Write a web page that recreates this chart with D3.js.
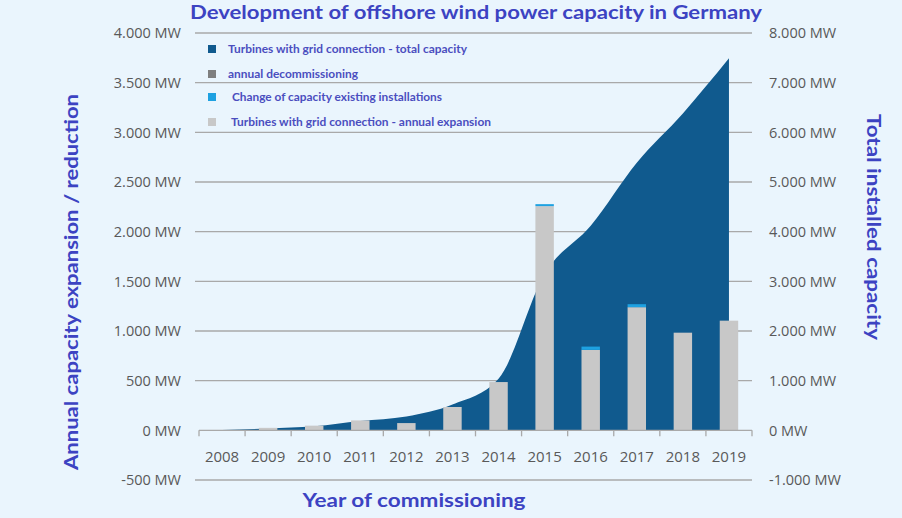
<!DOCTYPE html>
<html>
<head>
<meta charset="utf-8">
<script src="https://cdn.jsdelivr.net/npm/d3@7/dist/d3.min.js"></script>
<style>
  html, body { margin: 0; padding: 0; background: #eaf5fd; }
  svg { display: block; }
</style>
</head>
<body>
<svg id="chart" width="902" height="518"></svg>
<script>
// ---- data ----
const years = ["2008","2009","2010","2011","2012","2013","2014","2015","2016","2017","2018","2019"];
const annualExpansion = [3, 25, 47, 100, 73, 235, 486, 2257, 810, 1240, 983, 1104];
const capacityChange  = [0, 0, 0, 0, 0, 0, 0, 20, 33, 30, 0, 0];
const decommissioning = [0, 0, 0, 0, 0, 0, 0, 0, 0, 0, 0, 0];
const totalCapacity   = [5, 35, 80, 190, 280, 520, 1040, 3150, 4120, 5390, 6380, 7490];
const leftTicks  = [-500, 0, 500, 1000, 1500, 2000, 2500, 3000, 3500, 4000];
const rightTicks = [-1000, 0, 1000, 2000, 3000, 4000, 5000, 6000, 7000, 8000];
const legendItems = [
  {label: "Turbines with grid connection - total capacity", color: "#105a8e"},
  {label: "annual decommissioning", color: "#7f7f7f"},
  {label: "Change of capacity existing installations", color: "#1ea1e1"},
  {label: "Turbines with grid connection - annual expansion", color: "#c8c8c8"}
];
const titleText = "Development of offshore wind power capacity in Germany";

// ---- layout ----
const svg = d3.select("#chart");
const plotL = 199, plotR = 752, plotT = 33, plotB = 480;
const labelFont = "'Open Sans', 'Noto Sans', sans-serif";
const boldFont = "Lato, 'Open Sans', sans-serif";
const titleColor = "#3c43c2";
const tickColor = "#595959";

const x = d3.scaleBand().domain(years).range([plotL, plotR]).paddingInner(0.6).paddingOuter(0.3);
const yL = d3.scaleLinear().domain([-500, 4000]).range([plotB, plotT]);
const yR = d3.scaleLinear().domain([-1000, 8000]).range([plotB, plotT]);
const fmt = v => d3.format(",")(v).replace(/,/g, ".").replace("\u2212", "-") + " MW";

// gridlines
svg.append("g").selectAll("line").data(leftTicks.filter(d => d !== 0)).join("line")
  .attr("x1", plotL - 4).attr("x2", plotR)
  .attr("y1", d => yL(d)).attr("y2", d => yL(d))
  .attr("stroke", "#a9a9a9").attr("stroke-width", 1.3);

// area (total capacity, right axis)
const area = d3.area()
  .x((d, i) => x(years[i]) + x.bandwidth() / 2)
  .y0(yR(0))
  .y1(d => yR(d))
  .curve(d3.curveMonotoneX);
svg.append("path").datum(totalCapacity).attr("d", area).attr("fill", "#105a8e");

// bars
const bars = svg.append("g");
bars.selectAll("rect.exp").data(annualExpansion).join("rect").attr("class", "exp")
  .attr("x", (d, i) => x(years[i])).attr("width", x.bandwidth())
  .attr("y", d => yL(d)).attr("height", d => yL(0) - yL(d))
  .attr("fill", "#c8c8c8");
bars.selectAll("rect.chg").data(capacityChange).join("rect").attr("class", "chg")
  .attr("x", (d, i) => x(years[i])).attr("width", x.bandwidth())
  .attr("y", (d, i) => yL(annualExpansion[i] + d))
  .attr("height", (d, i) => yL(annualExpansion[i]) - yL(annualExpansion[i] + d))
  .attr("fill", "#1ea1e1");
bars.selectAll("rect.dec").data(decommissioning).join("rect").attr("class", "dec")
  .attr("x", (d, i) => x(years[i])).attr("width", x.bandwidth())
  .attr("y", yL(0)).attr("height", d => yL(-d) - yL(0))
  .attr("fill", "#7f7f7f");

// x axis baseline + ticks
const xa = svg.append("g");
xa.append("line").attr("x1", plotL).attr("x2", plotR).attr("y1", yL(0)).attr("y2", yL(0))
  .attr("stroke", "#a9a9a9").attr("stroke-width", 1.3);
const bounds = years.map(d => x(d) - x.step() * 0.3).concat([plotR]);
xa.selectAll("line.t").data(bounds).join("line").attr("class", "t")
  .attr("x1", d => d).attr("x2", d => d).attr("y1", yL(0)).attr("y2", yL(0) + 6)
  .attr("stroke", "#a9a9a9").attr("stroke-width", 1.3);
xa.selectAll("text").data(years).join("text")
  .attr("x", d => x(d) + x.bandwidth() / 2).attr("y", 462)
  .attr("text-anchor", "middle").attr("font-family", labelFont).attr("font-size", 15)
  .attr("fill", tickColor).text(d => d);

// left tick labels
svg.append("g").selectAll("text").data(leftTicks).join("text")
  .attr("x", 181).attr("y", d => yL(d)).attr("dy", "0.36em")
  .attr("text-anchor", "end").attr("font-family", labelFont).attr("font-size", 14.5)
  .attr("fill", tickColor).text(fmt);
// right tick labels
svg.append("g").selectAll("text").data(rightTicks).join("text")
  .attr("x", 769).attr("y", d => yR(d)).attr("dy", "0.36em")
  .attr("text-anchor", "start").attr("font-family", labelFont).attr("font-size", 14.5)
  .attr("fill", tickColor).text(fmt);

// titles
svg.append("text").attr("x", 476).attr("y", 19).attr("text-anchor", "middle")
  .attr("font-family", boldFont).attr("font-weight", "bold").attr("font-size", 19)
  .attr("fill", titleColor).attr("textLength", 572).attr("lengthAdjust", "spacingAndGlyphs")
  .text(titleText);
svg.append("text").attr("transform", "translate(78,282) rotate(-90)").attr("text-anchor", "middle")
  .attr("font-family", boldFont).attr("font-weight", "bold").attr("font-size", 19)
  .attr("fill", titleColor).attr("textLength", 376).attr("lengthAdjust", "spacingAndGlyphs")
  .text("Annual capacity expansion / reduction");
svg.append("text").attr("transform", "translate(867,227) rotate(90)").attr("text-anchor", "middle")
  .attr("font-family", boldFont).attr("font-weight", "bold").attr("font-size", 19)
  .attr("fill", titleColor).attr("textLength", 226).attr("lengthAdjust", "spacingAndGlyphs")
  .text("Total installed capacity");
svg.append("text").attr("x", 414).attr("y", 507).attr("text-anchor", "middle")
  .attr("font-family", boldFont).attr("font-weight", "bold").attr("font-size", 19)
  .attr("fill", titleColor).attr("textLength", 223).attr("lengthAdjust", "spacingAndGlyphs")
  .text("Year of commissioning");

// legend
const legY = [49, 74, 97, 122];
const legTX = [228, 228, 232, 231];
const legW = [239, 130, 210, 260];
const leg = svg.append("g");
legendItems.forEach((it, i) => {
  leg.append("rect").attr("x", 208).attr("y", legY[i] - 4).attr("width", 8).attr("height", 8)
    .attr("fill", it.color);
  leg.append("text").attr("x", legTX[i]).attr("y", legY[i]).attr("dy", "0.35em")
    .attr("font-family", boldFont).attr("font-weight", "bold").attr("font-size", 12)
    .attr("fill", "#4a4ebf").attr("textLength", legW[i]).attr("lengthAdjust", "spacingAndGlyphs")
    .text(it.label);
});
</script>
</body>
</html>
